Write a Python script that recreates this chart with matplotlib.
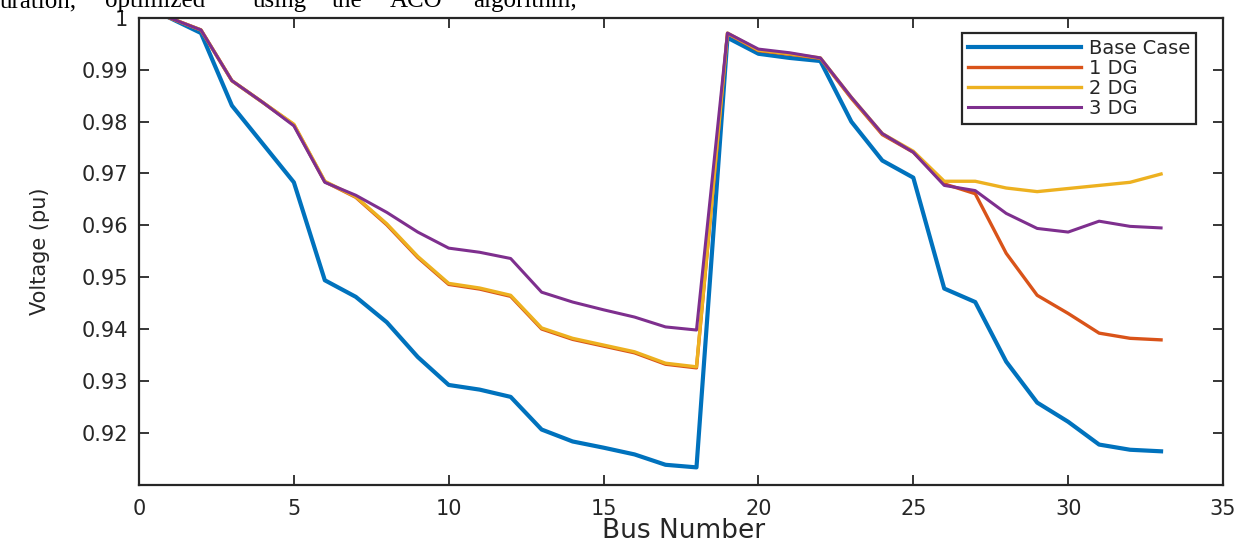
"""
Bus voltage profile of the 33-bus system: base case vs 1, 2 and 3 DG units.
"""

import matplotlib.pyplot as plt

bus = list(range(1, 34))

base_case = [1.0000, 0.9971, 0.9831, 0.9757, 0.9683, 0.9494, 0.9462, 0.9413, 0.9346, 0.9292,
             0.9283, 0.9269, 0.9206, 0.9183, 0.9171, 0.9158, 0.9138, 0.9133, 0.9962, 0.9931,
             0.9923, 0.9917, 0.9800, 0.9725, 0.9692, 0.9478, 0.9452, 0.9337, 0.9258, 0.9221,
             0.9177, 0.9167, 0.9164]
dg_1 = [1.0000, 0.9977, 0.9879, 0.9837, 0.9794, 0.9684, 0.9654, 0.9601, 0.9538, 0.9486,
        0.9477, 0.9463, 0.9400, 0.9380, 0.9367, 0.9354, 0.9332, 0.9325, 0.9970, 0.9937,
        0.9930, 0.9922, 0.9845, 0.9775, 0.9741, 0.9680, 0.9661, 0.9546, 0.9465, 0.9430,
        0.9392, 0.9382, 0.9379]
dg_2 = [1.0000, 0.9977, 0.9879, 0.9837, 0.9795, 0.9685, 0.9655, 0.9603, 0.9540, 0.9488,
        0.9479, 0.9465, 0.9402, 0.9382, 0.9369, 0.9356, 0.9334, 0.9327, 0.9971, 0.9938,
        0.9931, 0.9923, 0.9847, 0.9777, 0.9743, 0.9685, 0.9685, 0.9672, 0.9665, 0.9671,
        0.9677, 0.9683, 0.9699]
dg_3 = [1.0000, 0.9977, 0.9879, 0.9837, 0.9792, 0.9683, 0.9658, 0.9625, 0.9587, 0.9556,
        0.9548, 0.9536, 0.9471, 0.9452, 0.9437, 0.9423, 0.9404, 0.9398, 0.9971, 0.9940,
        0.9933, 0.9923, 0.9847, 0.9777, 0.9741, 0.9677, 0.9667, 0.9623, 0.9594, 0.9587,
        0.9608, 0.9598, 0.9595]

labels = ["Base Case", "1 DG", "2 DG", "3 DG"]
x_ticks = [0, 5, 10, 15, 20, 25, 30, 35]
y_ticks = [0.92, 0.93, 0.94, 0.95, 0.96, 0.97, 0.98, 0.99, 1.0]
y_tick_labels = ["0.92", "0.93", "0.94", "0.95", "0.96", "0.97", "0.98", "0.99", "1"]

# surrounding paper text, cut off at the top of the image
caption_words = ["uration,", "optimized", "using", "the", "ACO", "algorithm,"]
caption_x = [0, 105, 253, 332, 390, 473]

ink = "#262626"
colors = ["#0072BD", "#D95319", "#EDB120", "#7E2F8E"]
widths = [3.0, 2.4, 2.4, 2.2]

fig = plt.figure(figsize=(12.52, 5.44), dpi=100)
ax = fig.add_axes([139 / 1252, 1 - 485 / 544, 1084 / 1252, 467 / 544])

for series, lab, c, lw in zip([base_case, dg_1, dg_2, dg_3], labels, colors, widths):
    ax.plot(bus, series, color=c, lw=lw, label=lab, solid_joinstyle="round")

ax.set_xlim(0, 35)
ax.set_ylim(0.9099, 1.0)
ax.set_xticks(x_ticks)
ax.set_yticks(y_ticks)
ax.set_yticklabels(y_tick_labels)
ax.tick_params(direction="in", length=7, width=1.3, color=ink, labelcolor=ink,
               labelsize=15, top=True, right=True)
ax.tick_params(axis="x", pad=10)
ax.tick_params(axis="y", pad=8)
for s in ax.spines.values():
    s.set_color(ink)
    s.set_linewidth(1.6)

ax.set_xlabel("Bus Number", fontsize=19, color=ink)
ax.set_ylabel("Voltage (pu)", fontsize=15, color=ink)
ax.xaxis.set_label_coords(0.502, -0.07)
ax.yaxis.set_label_coords(-0.082, 0.5)

leg = ax.legend(loc="upper right", bbox_to_anchor=(0.975, 0.967), borderaxespad=0,
                fontsize=14, handlelength=5.8, handletextpad=0.4, labelspacing=0.05,
                fancybox=False, framealpha=1, edgecolor=ink, borderpad=0.3)
leg.get_frame().set_linewidth(1.6)
for t in leg.get_texts():
    t.set_color(ink)

for w, px in zip(caption_words, caption_x):
    fig.text(px / 1252, 1 - 7 / 544, w, family="Liberation Serif", fontsize=18,
             ha="left", va="baseline", color="black")

fig.savefig("out.png", dpi=100)
